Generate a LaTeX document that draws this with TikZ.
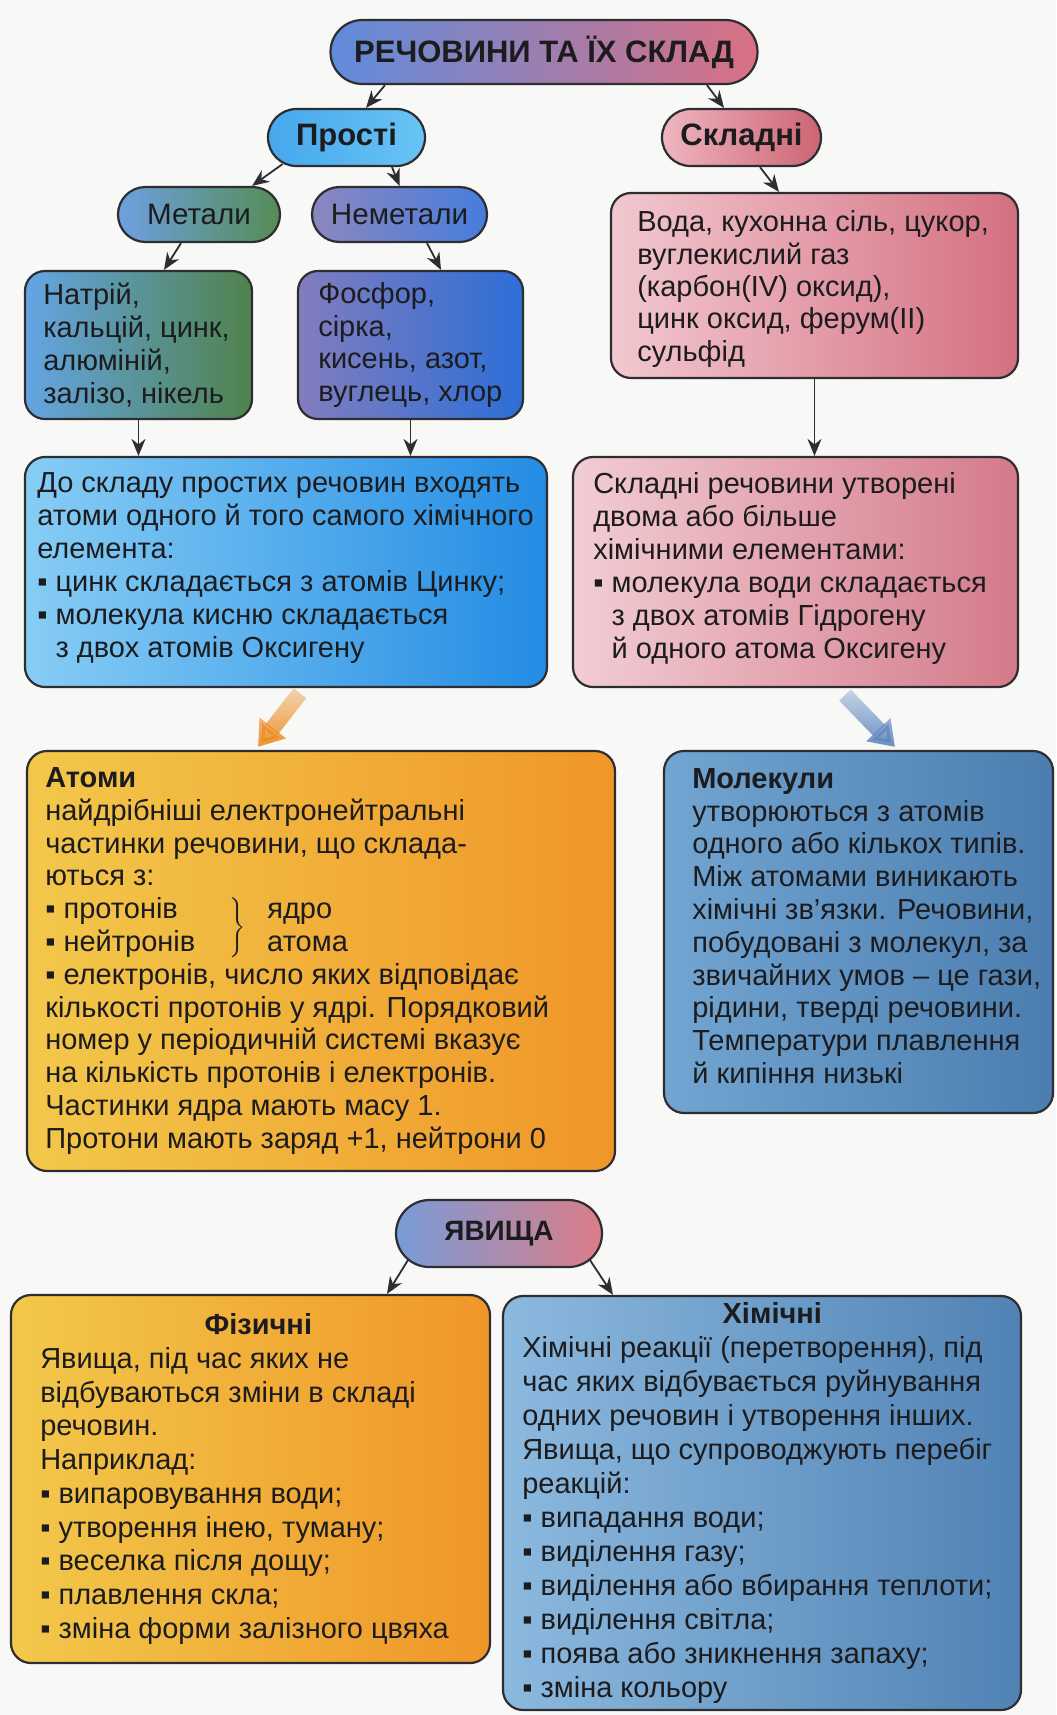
\documentclass[tikz,border=0pt]{standalone}
\usepackage{fontspec}
\setmainfont{Liberation Sans}
\usetikzlibrary{arrows.meta,shapes.misc,fadings}

\definecolor{ink}{RGB}{28,28,30}
\definecolor{edge}{RGB}{45,45,50}
\definecolor{paper}{RGB}{248,248,246}
\definecolor{titleL}{RGB}{95,140,220}
\definecolor{titleR}{RGB}{218,112,130}
\definecolor{prostiL}{RGB}{70,168,236}
\definecolor{prostiR}{RGB}{105,196,245}
\definecolor{skladL}{RGB}{238,182,192}
\definecolor{skladR}{RGB}{205,100,115}
\definecolor{metL}{RGB}{110,160,225}
\definecolor{metR}{RGB}{85,140,85}
\definecolor{nemL}{RGB}{140,135,190}
\definecolor{nemR}{RGB}{70,125,220}
\definecolor{natL}{RGB}{100,165,228}
\definecolor{natR}{RGB}{80,130,75}
\definecolor{fosL}{RGB}{130,125,190}
\definecolor{fosR}{RGB}{45,110,215}
\definecolor{vodaL}{RGB}{242,200,208}
\definecolor{vodaR}{RGB}{212,112,128}
\definecolor{simpL}{RGB}{135,205,245}
\definecolor{simpR}{RGB}{35,140,228}
\definecolor{compL}{RGB}{242,205,212}
\definecolor{compR}{RGB}{212,122,138}
\definecolor{atomL}{RGB}{242,200,75}
\definecolor{atomR}{RGB}{240,150,40}
\definecolor{molL}{RGB}{115,165,210}
\definecolor{molR}{RGB}{75,125,175}
\definecolor{yavL}{RGB}{120,155,215}
\definecolor{yavR}{RGB}{220,125,135}
\definecolor{khimL}{RGB}{140,185,222}
\definecolor{khimR}{RGB}{80,130,180}
\definecolor{fatorange}{RGB}{236,140,35}
\definecolor{fatblue}{RGB}{95,135,190}

\tikzfading[name=fadetail, top color=transparent!70, bottom color=transparent!0]

\newcommand\bul{▪ }
\newcommand\ind{\phantom{▪ }}
\newcommand\nucbrace{\raisebox{-8.2pt}[0pt][0pt]{$\left.\vrule height 20pt depth 0pt width 0pt\right\}$}}

\begin{document}
\begin{tikzpicture}[x=0.5pt,y=-0.5pt,
    box/.style={draw=edge,line width=1.1pt,rounded corners=10pt,inner sep=0pt},
    pill/.style={draw=edge,line width=1.1pt,rounded rectangle,inner sep=0pt,text=ink},
    bold/.style={font=\fontsize{15.5}{18}\selectfont\bfseries},
    plain/.style={font=\fontsize{14.8}{18}\selectfont},
    body/.style={anchor=west,align=left,inner sep=0pt,text=ink,font=\fontsize{14.5}{16.4}\selectfont},
    arr/.style={draw=edge,line width=0.9pt,-{Stealth[length=8.5pt,width=7pt]}},
    fat/.style={line width=8pt,path fading=fadetail,-{Triangle[length=12pt,width=16pt]}}]

    \fill[paper] (0,0) rectangle (1056,1715);
    \useasboundingbox (0,0) rectangle (1056,1715);

    \node[pill,bold,left color=titleL,right color=titleR,minimum width=213.5pt,minimum height=32pt] (title) at (544,52) {РЕЧОВИНИ ТА ЇХ СКЛАД};
    \node[pill,bold,left color=prostiL,right color=prostiR,minimum width=78.5pt,minimum height=28.5pt] (prosti) at (346.5,137.5) {Прості};
    \node[pill,bold,left color=skladL,right color=skladR,minimum width=79.5pt,minimum height=28.5pt] (skladni) at (741.5,137.5) {Складні};
    \node[pill,plain,left color=metL,right color=metR,minimum width=81pt,minimum height=27.5pt] (metaly) at (199,214.5) {Метали};
    \node[pill,plain,left color=nemL,right color=nemR,minimum width=87.5pt,minimum height=27.5pt] (nemetaly) at (399.5,214.5) {Неметали};

    \node[box,left color=natL,right color=natR,minimum width=113.5pt,minimum height=74pt] (natrij) at (138.5,345) {};
    \node[box,left color=fosL,right color=fosR,minimum width=112.5pt,minimum height=74pt] (fosfor) at (410.5,345) {};
    \node[box,left color=vodaL,right color=vodaR,minimum width=203.5pt,minimum height=92.5pt] (voda) at (814.5,285.5) {};
    \node[box,left color=simpL,right color=simpR,minimum width=261pt,minimum height=115pt] (simple) at (286,572) {};
    \node[box,left color=compL,right color=compR,minimum width=222.5pt,minimum height=115pt] (complex) at (795.5,572) {};
    \node[box,left color=atomL,right color=atomR,minimum width=294pt,minimum height=210pt] (atoms) at (321,961) {};
    \node[box,left color=molL,right color=molR,minimum width=194.5pt,minimum height=181pt] (molecules) at (858.5,932) {};
    \node[pill,left color=yavL,right color=yavR,minimum width=103pt,minimum height=33.5pt,font=\fontsize{14}{17}\selectfont\bfseries] (yavy) at (499,1233.5) {ЯВИЩА};
    \node[box,left color=atomL,right color=atomR,minimum width=239.5pt,minimum height=184pt] (fiz) at (250.5,1479) {};
    \node[box,left color=khimL,right color=khimR,minimum width=259pt,minimum height=207pt] (khim) at (762,1503) {};

    \node[body] (natrijtxt) at ([xshift=9.5pt]natrij.west) {Натрій,\\ кальцій, цинк,\\ алюміній,\\ залізо, нікель};
    \node[body] (fosfortxt) at ([xshift=10.5pt]fosfor.west) {Фосфор,\\ сірка,\\ кисень, азот,\\ вуглець, хлор};
    \node[body,font=\fontsize{14.5}{16.15}\selectfont] (vodatxt) at ([xshift=13.5pt,yshift=-1.75pt]voda.west)
      {Вода, кухонна сіль, цукор,\\ вуглекислий газ\\ (карбон(IV) оксид),\\ цинк оксид, ферум(II)\\ сульфід};
    \node[body,font=\fontsize{14.5}{16.5}\selectfont] (simpletxt) at ([xshift=6.5pt,yshift=1.75pt]simple.west)
      {До складу простих речовин входять\\ атоми одного й того самого хімічного\\ елемента:\\ \bul цинк складається з атомів Цинку;\\
       \bul молекула кисню складається\\ \ind з двох атомів Оксигену};
    \node[body,font=\fontsize{14.5}{16.5}\selectfont] (complextxt) at ([xshift=10.5pt,yshift=1.75pt]complex.west)
      {Складні речовини утворені\\ двома або більше\\ хімічними елементами:\\ \bul молекула води складається\\
       \ind з двох атомів Гідрогену\\ \ind й одного атома Оксигену};
    \node[body] (atomstxt) at ([xshift=9.5pt]atoms.west)
      {\textbf{Атоми}\\ найдрібніші електронейтральні\\ частинки речовини, що склада-\\ ються з:\\
       \makebox[91pt][l]{\bul протонів}\makebox[20pt][l]{\nucbrace}ядро\\
       \makebox[111pt][l]{\bul нейтронів}атома\\
       \bul електронів, число яких відповідає\\ кількості протонів у ядрі. Порядковий\\ номер у періодичній системі вказує\\
       на кількість протонів і електронів.\\ Частинки ядра мають масу 1.\\ Протони мають заряд +1, нейтрони 0};
    \node[body] (moleculestxt) at ([xshift=14.5pt,yshift=3pt]molecules.west)
      {\textbf{Молекули}\\ утворюються з атомів\\ одного або кількох типів.\\ Між атомами виникають\\ хімічні зв'язки. Речовини,\\
       побудовані з молекул, за\\ звичайних умов – це гази,\\ рідини, тверді речовини.\\ Температури плавлення\\ й кипіння низькі};
    \node[body,font=\fontsize{14.5}{16.85}\selectfont] (fiztxt) at ([xshift=15pt]fiz.west)
      {\makebox[218pt][c]{\textbf{Фізичні}}\\ Явища, під час яких не\\ відбуваються зміни в складі\\ речовин.\\ Наприклад:\\
       \bul випаровування води;\\ \bul утворення інею, туману;\\ \bul веселка після дощу;\\ \bul плавлення скла;\\ \bul зміна форми залізного цвяха};
    \node[body,font=\fontsize{14.5}{17}\selectfont] (khimtxt) at ([xshift=10pt]khim.west)
      {\makebox[250pt][c]{\textbf{Хімічні}}\\ Хімічні реакції (перетворення), під\\ час яких відбувається руйнування\\
       одних речовин і утворення інших.\\ Явища, що супроводжують перебіг\\ реакцій:\\ \bul випадання води;\\ \bul виділення газу;\\
       \bul виділення або вбирання теплоти;\\ \bul виділення світла;\\ \bul поява або зникнення запаху;\\ \bul зміна кольору};

    \draw[arr] ([xshift=-79.5pt]title.south) -- ([xshift=9.75pt]prosti.north);
    \draw[arr] ([xshift=81.5pt]title.south) -- ([xshift=-8.75pt]skladni.north);
    \draw[arr] ([xshift=-32pt,yshift=1.5pt]prosti.south) -- ([xshift=26.5pt]metaly.north);
    \draw[arr] ([xshift=22.75pt]prosti.south) -- (nemetaly.north);
    \draw[arr] ([xshift=9.25pt]skladni.south) -- ([xshift=-17.75pt]voda.north);
    \draw[arr] ([xshift=-9pt]metaly.south) -- ([xshift=12.75pt]natrij.north);
    \draw[arr] ([xshift=13.75pt]nemetaly.south) -- ([xshift=15.25pt]fosfor.north);
    \draw[arr] (natrij.south) -- (natrij.south |- simple.north);
    \draw[arr] (fosfor.south) -- (fosfor.south |- simple.north);
    \draw[arr] (voda.south) -- (voda.south |- complex.north);
    \draw[fat,fatorange] ([xshift=7pt,yshift=-2.5pt]simple.south) -- ([xshift=-31.5pt,yshift=1.5pt]atoms.north);
    \draw[fat,fatblue] ([xshift=24.75pt,yshift=-3.5pt]complex.south) -- ([xshift=18.25pt,yshift=1.5pt]molecules.north);
    \draw[arr] ([xshift=-45.5pt,yshift=4pt]yavy.south) -- ([xshift=68.25pt]fiz.north);
    \draw[arr] ([xshift=45.5pt,yshift=4pt]yavy.south) -- ([xshift=-74.5pt]khim.north);
\end{tikzpicture}
\end{document}
